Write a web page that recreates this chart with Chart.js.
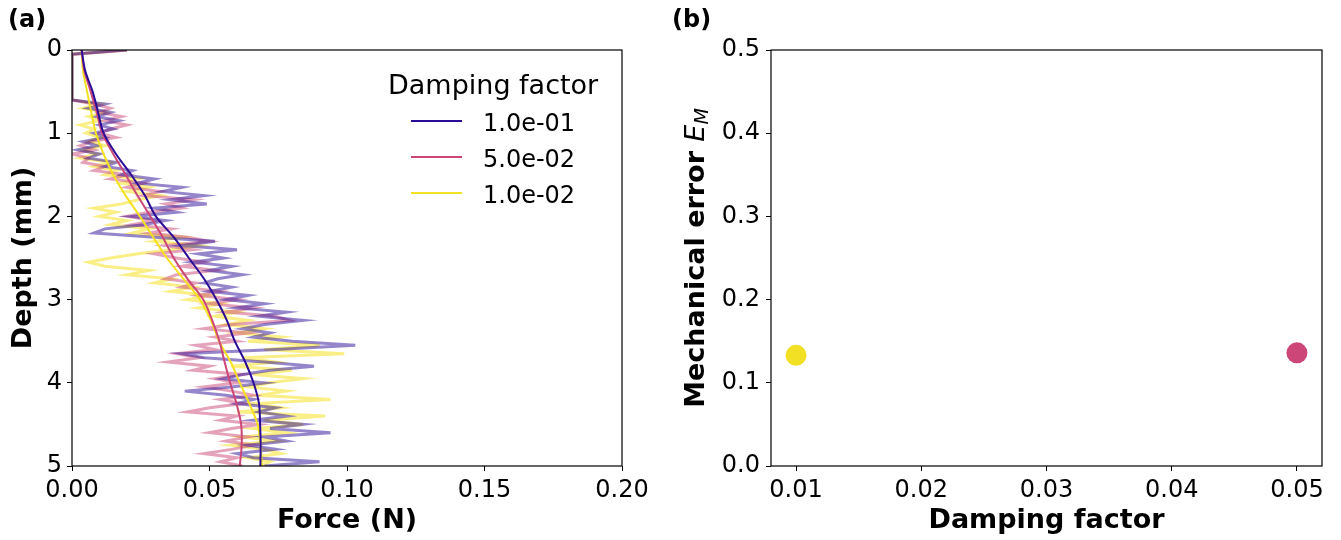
<!DOCTYPE html>
<html>
<head>
<meta charset="utf-8">
<script src="https://cdn.jsdelivr.net/npm/chart.js@4"></script>
<style>
  html, body { margin: 0; padding: 0; background: #fff; }
  #wrap { position: relative; width: 1341px; height: 540px; }
  #forceChart { position: absolute; left: 0; top: 0; }
  #errorChart { position: absolute; left: 660px; top: 0; }
</style>
</head>
<body>
<div id="wrap">
  <canvas id="forceChart" width="660" height="540"></canvas>
  <canvas id="errorChart" width="681" height="540"></canvas>
</div>
<script>
Chart.defaults.font.family = "'DejaVu Sans', sans-serif";
Chart.defaults.font.size = 24;
Chart.defaults.color = "#000";

// ---- panel (a): force vs depth ----
const dampingLabels = ["1.0e-01", "5.0e-02", "1.0e-02"];

// raw force samples, one per 0.05 mm of depth
const rawDepth = [
  0, 0.05, 0.1, 0.15, 0.2, 0.25, 0.3, 0.35, 0.4, 0.45,
  0.5, 0.55, 0.6, 0.65, 0.7, 0.75, 0.8, 0.85, 0.9, 0.95,
  1.0, 1.05, 1.1, 1.15, 1.2, 1.25, 1.3, 1.35, 1.4, 1.45,
  1.5, 1.55, 1.6, 1.65, 1.7, 1.75, 1.8, 1.85, 1.9, 1.95,
  2.0, 2.05, 2.1, 2.15, 2.2, 2.25, 2.3, 2.35, 2.4, 2.45,
  2.5, 2.55, 2.6, 2.65, 2.7, 2.75, 2.8, 2.85, 2.9, 2.95,
  3.0, 3.05, 3.1, 3.15, 3.2, 3.25, 3.3, 3.35, 3.4, 3.45,
  3.5, 3.55, 3.6, 3.65, 3.7, 3.75, 3.8, 3.85, 3.9, 3.95,
  4.0, 4.05, 4.1, 4.15, 4.2, 4.25, 4.3, 4.35, 4.4, 4.45,
  4.5, 4.55, 4.6, 4.65, 4.7, 4.75, 4.8, 4.85, 4.9, 4.95,
  5.0
];
const rawForce1e1 = [
  0.020, 0, 0, 0, 0, 0, 0, 0, 0, 0,
  0, 0, 0, 0.012, 0.006, 0.014, 0.009, 0.017, 0.010, 0.015,
  0.008, 0.012, 0.004, 0.009, 0.002, 0.010, 0.006, 0.016, 0.012, 0.022,
  0.018, 0.030, 0.024, 0.040, 0.033, 0.048, 0.036, 0.049, 0.030, 0.038,
  0.022, 0.034, 0.026, 0.012, 0.008, 0.030, 0.052, 0.040, 0.060, 0.046,
  0.055, 0.044, 0.058, 0.050, 0.062, 0.053, 0.048, 0.058, 0.050, 0.064,
  0.056, 0.070, 0.060, 0.078, 0.068, 0.084, 0.070, 0.062, 0.072, 0.066,
  0.080, 0.103, 0.074, 0.040, 0.048, 0.070, 0.088, 0.072, 0.062, 0.055,
  0.070, 0.058, 0.041, 0.056, 0.066, 0.060, 0.074, 0.068, 0.078, 0.066,
  0.084, 0.072, 0.094, 0.070, 0.078, 0.064, 0.074, 0.060, 0.066, 0.090,
  0.070
];
const rawForce5e2 = [
  0.020, 0, 0, 0, 0, 0, 0, 0, 0, 0,
  0, 0, 0, 0.008, 0.014, 0.010, 0.018, 0.012, 0.020, 0.014,
  0.010, 0.016, 0.007, 0.003, 0.008, 0.000, 0.006, 0.004, 0.012, 0.008,
  0.020, 0.014, 0.026, 0.020, 0.032, 0.026, 0.044, 0.034, 0.040, 0.028,
  0.020, 0.030, 0.022, 0.036, 0.028, 0.042, 0.050, 0.034, 0.044, 0.030,
  0.038, 0.048, 0.040, 0.052, 0.038, 0.034, 0.045, 0.040, 0.054, 0.046,
  0.060, 0.050, 0.066, 0.056, 0.074, 0.079, 0.058, 0.048, 0.064, 0.052,
  0.060, 0.045, 0.052, 0.038, 0.046, 0.035, 0.050, 0.044, 0.062, 0.052,
  0.060, 0.048, 0.058, 0.066, 0.054, 0.062, 0.050, 0.042, 0.060, 0.054,
  0.068, 0.058, 0.050, 0.064, 0.056, 0.066, 0.058, 0.048, 0.060, 0.054,
  0.062
];
const rawForce1e2 = [
  0.020, 0, 0, 0, 0, 0, 0, 0, 0, 0,
  0, 0, 0, 0.010, 0.004, 0.012, 0.006, 0.010, 0.003, 0.008,
  0.005, 0.010, 0.006, 0.012, 0.004, 0.009, 0.003, 0.014, 0.008, 0.016,
  0.012, 0.024, 0.018, 0.028, 0.020, 0.032, 0.024, 0.018, 0.008, 0.016,
  0.010, 0.020, 0.014, 0.028, 0.022, 0.040, 0.030, 0.046, 0.036, 0.024,
  0.014, 0.006, 0.012, 0.028, 0.020, 0.036, 0.030, 0.044, 0.036, 0.050,
  0.042, 0.054, 0.046, 0.060, 0.052, 0.064, 0.056, 0.070, 0.060, 0.076,
  0.064, 0.090, 0.070, 0.099, 0.062, 0.074, 0.058, 0.080, 0.066, 0.084,
  0.072, 0.064, 0.078, 0.068, 0.094, 0.066, 0.076, 0.060, 0.092, 0.070,
  0.084, 0.066, 0.078, 0.062, 0.074, 0.058, 0.070, 0.076, 0.064, 0.072,
  0.068
];

// smoothed force curves, one per 0.25 mm of depth
const smoothDepth = [
  0, 0.25, 0.5, 0.75, 1.0, 1.25, 1.5, 1.75, 2.0, 2.25, 2.5,
  2.75, 3.0, 3.25, 3.5, 3.75, 4.0, 4.25, 4.5, 4.75, 5.0
];
const smoothForce1e1 = [
  0.0035, 0.0048, 0.0075, 0.0095, 0.0115, 0.0160, 0.0215, 0.0265, 0.0305, 0.0370, 0.0425,
  0.0480, 0.0525, 0.0563, 0.0592, 0.0630, 0.0660, 0.0680, 0.0684, 0.0686, 0.0685
];
const smoothForce5e2 = [
  0.0035, 0.0045, 0.0068, 0.0090, 0.0110, 0.0150, 0.0195, 0.0238, 0.0285, 0.0330, 0.0370,
  0.0420, 0.0477, 0.0510, 0.0536, 0.0555, 0.0575, 0.0598, 0.0615, 0.0617, 0.0610
];
const smoothForce1e2 = [
  0.0035, 0.0040, 0.0055, 0.0070, 0.0087, 0.0115, 0.0150, 0.0195, 0.0247, 0.0295, 0.0345,
  0.0405, 0.0465, 0.0505, 0.0535, 0.0577, 0.0610, 0.0645, 0.0675, 0.0686, 0.0690
];

const forceTicks = [0, 0.05, 0.1, 0.15, 0.2];
const forceTickLabels = ["0.00", "0.05", "0.10", "0.15", "0.20"];
const depthTicks = [0, 1, 2, 3, 4, 5];
const depthTickLabels = ["0", "1", "2", "3", "4", "5"];

// ---- panel (b): error vs damping ----
const dampingFactors = [0.01, 0.05];
const mechanicalErrors = [0.133, 0.136];
const dampingTicks = [0.01, 0.02, 0.03, 0.04, 0.05];
const dampingTickLabels = ["0.01", "0.02", "0.03", "0.04", "0.05"];
const errorTicks = [0, 0.1, 0.2, 0.3, 0.4, 0.5];
const errorTickLabels = ["0.0", "0.1", "0.2", "0.3", "0.4", "0.5"];

// plasma-ish colours
const lineColors = ["#2b0c96", "#cc4778", "#f4e122"];
const rawColors = ["rgba(43,12,150,0.5)", "rgba(204,71,120,0.5)", "rgba(244,225,34,0.55)"];
const dotColors = ["#f2e024", "#cc4778"];

const titleFont = { weight: "bold", size: 27 };

const toPoints = (forces, depths) => forces.map((f, i) => ({ x: f, y: depths[i] }));

const rawSets = [rawForce1e1, rawForce5e2, rawForce1e2];
const smoothSets = [smoothForce1e1, smoothForce5e2, smoothForce1e2];

const forceDatasets = [];
smoothSets.forEach((s, i) => {
  forceDatasets.push({
    label: dampingLabels[i],
    data: toPoints(s, smoothDepth),
    showLine: true,
    borderColor: lineColors[i],
    borderWidth: 2,
    pointRadius: 0,
    tension: 0.3,
    order: 0,
  });
});
// raw traces sit underneath, half transparent
rawSets.forEach((s, i) => {
  forceDatasets.push({
    label: dampingLabels[i] + " raw",
    data: toPoints(s, rawDepth),
    showLine: true,
    borderColor: rawColors[i],
    borderWidth: 3,
    pointRadius: 0,
    tension: 0,
    order: 1,
  });
});

// closed box round the plot area
const frame = {
  id: "frame",
  afterDatasetsDraw(chart) {
    const { ctx, chartArea: a } = chart;
    ctx.save();
    ctx.strokeStyle = "#000";
    ctx.lineWidth = 1.2;
    ctx.strokeRect(a.left, a.top, a.right - a.left, a.bottom - a.top);
    ctx.restore();
  },
};

const panelTag = (id, text, x, y) => ({
  id: id,
  afterDraw(chart) {
    const ctx = chart.ctx;
    ctx.save();
    ctx.font = "bold 24px 'DejaVu Sans'";
    ctx.fillStyle = "#000";
    ctx.textBaseline = "alphabetic";
    ctx.fillText(text, x, y);
    ctx.restore();
  },
});

const dampingLegend = {
  id: "dampingLegend",
  afterDraw(chart) {
    const ctx = chart.ctx;
    ctx.save();
    ctx.fillStyle = "#000";
    ctx.textBaseline = "alphabetic";
    ctx.font = "27px 'DejaVu Sans'";
    ctx.fillText("Damping factor", 388, 94);
    ctx.font = "24px 'DejaVu Sans'";
    dampingLabels.forEach((label, i) => {
      const y = 121 + i * 36;
      ctx.strokeStyle = lineColors[i];
      ctx.lineWidth = 2;
      ctx.beginPath();
      ctx.moveTo(411, y);
      ctx.lineTo(462, y);
      ctx.stroke();
      ctx.fillText(label, 483, y + 10);
    });
    ctx.restore();
  },
};

// y title with an italic E and subscript M
const errorTitle = {
  id: "errorTitle",
  afterDraw(chart) {
    const ctx = chart.ctx;
    const a = chart.chartArea;
    ctx.save();
    ctx.translate(44, (a.top + a.bottom) / 2);
    ctx.rotate(-Math.PI / 2);
    ctx.fillStyle = "#000";
    ctx.textBaseline = "alphabetic";
    const main = "Mechanical error ";
    ctx.font = "bold 27px 'DejaVu Sans'";
    const w1 = ctx.measureText(main).width;
    ctx.font = "italic 27px 'DejaVu Sans'";
    const w2 = ctx.measureText("E").width;
    ctx.font = "italic 19px 'DejaVu Sans'";
    const w3 = ctx.measureText("M").width;
    const x0 = -(w1 + w2 + w3) / 2;
    ctx.font = "bold 27px 'DejaVu Sans'";
    ctx.fillText(main, x0, 0);
    ctx.font = "italic 27px 'DejaVu Sans'";
    ctx.fillText("E", x0 + w1, 0);
    ctx.font = "italic 19px 'DejaVu Sans'";
    ctx.fillText("M", x0 + w1 + w2, 4);
    ctx.restore();
  },
};

const tickGrid = { display: true, drawOnChartArea: false, tickLength: 5, color: "#000", lineWidth: 1 };

new Chart("forceChart", {
  type: "scatter",
  data: { datasets: forceDatasets },
  options: {
    responsive: false,
    animation: false,
    devicePixelRatio: 1,
    layout: { padding: { top: 50, right: 38, left: 0, bottom: 0 } },
    scales: {
      x: {
        type: "linear",
        min: 0,
        max: 0.2,
        afterBuildTicks: (axis) => {
          axis.ticks = forceTicks.map((v) => ({ value: v }));
        },
        afterFit: (axis) => {
          axis.height = 74;
          axis.paddingLeft = 0;
          axis.paddingRight = 0;
        },
        grid: tickGrid,
        border: { display: false },
        ticks: {
          padding: 5,
          maxRotation: 0,
          autoSkip: false,
          callback: (v, i) => forceTickLabels[i],
        },
        title: {
          display: true,
          text: "Force (N)",
          font: titleFont,
          padding: { top: 0, bottom: 3 },
        },
      },
      y: {
        type: "linear",
        reverse: true,
        min: 0,
        max: 5,
        afterBuildTicks: (axis) => {
          axis.ticks = depthTicks.map((v) => ({ value: v }));
        },
        afterFit: (axis) => {
          axis.width = 72;
          axis.paddingTop = 0;
          axis.paddingBottom = 0;
        },
        grid: tickGrid,
        border: { display: false },
        ticks: {
          padding: 5,
          autoSkip: false,
          callback: (v, i) => depthTickLabels[i],
        },
        title: {
          display: true,
          text: "Depth (mm)",
          font: titleFont,
          padding: { top: 8, bottom: 0 },
        },
      },
    },
    plugins: {
      legend: { display: false },
      tooltip: { enabled: false },
    },
  },
  plugins: [frame, dampingLegend, panelTag("tagA", "(a)", 8, 27)],
});

new Chart("errorChart", {
  type: "scatter",
  data: {
    datasets: [
      {
        label: "Mechanical error",
        data: dampingFactors.map((d, i) => ({ x: d, y: mechanicalErrors[i] })),
        pointRadius: 10.5,
        pointBackgroundColor: dotColors,
        pointBorderWidth: 0,
        clip: false,
      },
    ],
  },
  options: {
    responsive: false,
    animation: false,
    devicePixelRatio: 1,
    layout: { padding: { top: 50, right: 19, left: 0, bottom: 0 } },
    scales: {
      x: {
        type: "linear",
        min: 0.008,
        max: 0.052,
        afterBuildTicks: (axis) => {
          axis.ticks = dampingTicks.map((v) => ({ value: v }));
        },
        afterFit: (axis) => {
          axis.height = 74;
          axis.paddingLeft = 0;
          axis.paddingRight = 0;
        },
        grid: tickGrid,
        border: { display: false },
        ticks: {
          padding: 5,
          maxRotation: 0,
          autoSkip: false,
          callback: (v, i) => dampingTickLabels[i],
        },
        title: {
          display: true,
          text: "Damping factor",
          font: titleFont,
          padding: { top: 0, bottom: 3 },
        },
      },
      y: {
        type: "linear",
        min: 0,
        max: 0.5,
        afterBuildTicks: (axis) => {
          axis.ticks = errorTicks.map((v) => ({ value: v }));
        },
        afterFit: (axis) => {
          axis.width = 111;
          axis.paddingTop = 0;
          axis.paddingBottom = 0;
        },
        grid: tickGrid,
        border: { display: false },
        ticks: {
          padding: 6,
          autoSkip: false,
          callback: (v, i) => errorTickLabels[i],
        },
      },
    },
    plugins: {
      legend: { display: false },
      tooltip: { enabled: false },
    },
  },
  plugins: [frame, errorTitle, panelTag("tagB", "(b)", 12, 27)],
});
</script>
</body>
</html>
